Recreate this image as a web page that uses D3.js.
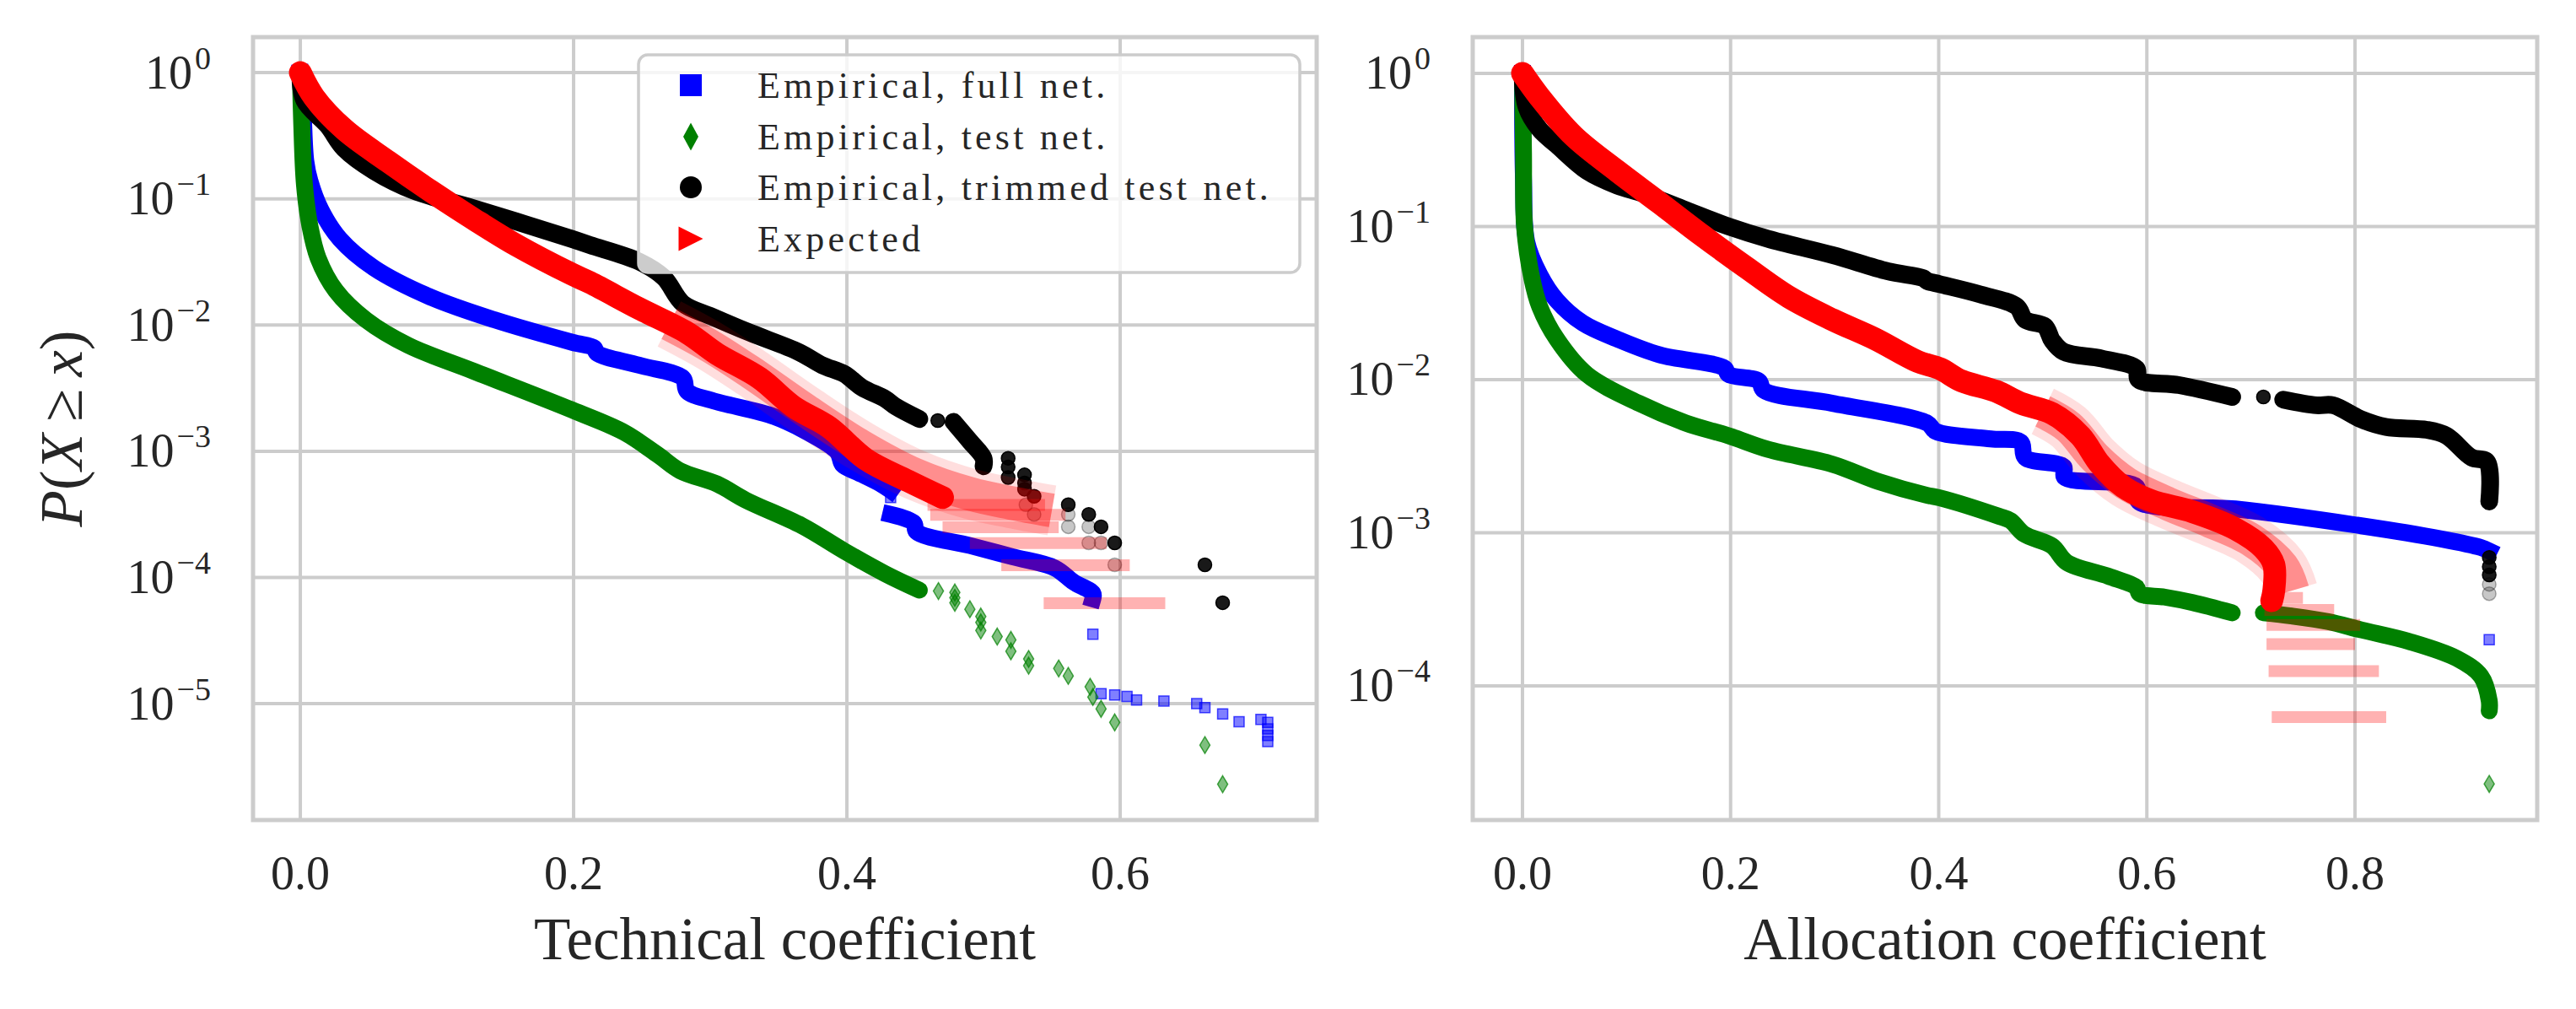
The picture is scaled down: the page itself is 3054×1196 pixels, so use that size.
<!DOCTYPE html>
<html><head><meta charset="utf-8">
<script src="https://cdn.jsdelivr.net/npm/d3@7/dist/d3.min.js"></script>
<style>
html,body{margin:0;padding:0;background:#fff;}
svg text{font-family:"Liberation Serif","Times New Roman",serif;fill:#262626;}
</style></head><body>
<svg id="chart" width="3054" height="1196" xmlns="http://www.w3.org/2000/svg"></svg>
<script>
// ---------------- DATA ----------------
const legendLabels = ["Empirical, full net.", "Empirical, test net.", "Empirical, trimmed test net.", "Expected"];
const techXLabel = "Technical coefficient";
const allocXLabel = "Allocation coefficient";
const techXTicks = [0, 0.2, 0.4, 0.6];
const allocXTicks = [0, 0.2, 0.4, 0.6, 0.8];
const techYExps = [0, -1, -2, -3, -4, -5];
const allocYExps = [0, -1, -2, -3, -4];

// Technical coefficient panel: [x, P(X>=x)]
const tcFullBand = [[0,1],[0.002,0.5],[0.004,0.2],[0.007,0.139],[0.015,0.082],[0.029,0.048],[0.054,0.0283],[0.095,0.0167],[0.142,0.011],[0.199,0.0073],[0.215,0.0066],[0.217,0.006],[0.248,0.0048],[0.28,0.0038],[0.283,0.003],[0.301,0.00253],[0.347,0.00188],[0.372,0.0014],[0.393,0.00099],[0.397,0.00078],[0.408,0.00068],[0.425,0.00055],[0.432,0.00049]];
const tcFullBand2 = [[0.432,0.000316],[0.449,0.00027],[0.451,0.00023],[0.49,0.000179],[0.521,0.000146],[0.552,0.000119],[0.566,0.0000918],[0.58,0.0000748],[0.58,0.0000676]];
const tcFullTail = [[0.432,0.00043],[0.58,0.0000355],[0.586,0.000012],[0.596,0.0000117],[0.605,0.0000114],[0.612,0.0000107],[0.632,0.0000105],[0.656,0.00001],[0.662,0.0000093],[0.675,0.0000083],[0.687,0.0000072],[0.703,0.0000075],[0.708,0.0000071],[0.708,0.0000063],[0.708,0.0000056],[0.708,0.000005]];
const tcTestBand = [[0,1],[0.001,0.4],[0.003,0.13],[0.007,0.061],[0.013,0.034],[0.026,0.0187],[0.048,0.011],[0.079,0.0069],[0.127,0.0043],[0.199,0.00212],[0.237,0.00141],[0.262,0.00093],[0.278,0.0007],[0.305,0.00055],[0.326,0.00041],[0.367,0.000257],[0.398,0.000162],[0.428,0.000107],[0.453,0.0000794]];
const tcTestTail = [[0.467,7.8e-5],[0.479,7.6e-5],[0.479,6.9e-5],[0.479,6.3e-5],[0.49,5.6e-5],[0.498,4.9e-5],[0.498,4.4e-5],[0.498,3.8e-5],[0.51,3.4e-5],[0.52,3.2e-5],[0.52,2.6e-5],[0.533,2.26e-5],[0.533,2.0e-5],[0.555,1.9e-5],[0.562,1.66e-5],[0.578,1.36e-5],[0.58,1.13e-5],[0.586,9.1e-6],[0.596,7.1e-6],[0.662,4.7e-6],[0.675,2.3e-6]];
const tcTrimBand = [[0,1],[0.003,0.6],[0.02,0.38],[0.032,0.25],[0.054,0.166],[0.083,0.116],[0.127,0.084],[0.199,0.048],[0.212,0.043],[0.248,0.0318],[0.266,0.0238],[0.28,0.0148],[0.301,0.0117],[0.329,0.0087],[0.365,0.0061],[0.382,0.0048],[0.398,0.0041],[0.411,0.0032],[0.428,0.0026],[0.436,0.00225],[0.453,0.0018]];
const tcTrimBand2 = [[0.478,0.00171],[0.49,0.0012],[0.5,0.00088],[0.5,0.00076]];
const tcTrimTail = [[0.4665,0.00175],[0.518,0.00088],[0.518,0.00075],[0.518,0.00062],[0.53,0.00065],[0.53,0.00056],[0.53,0.0005],[0.537,0.00044],[0.562,0.000377],[0.577,0.000316],[0.586,0.000252],[0.596,0.000188],[0.662,0.000126],[0.675,0.0000631]];
const tcTrimFaint = [[0.531,0.000377],[0.537,0.000316],[0.562,0.000316],[0.562,0.000252],[0.577,0.000252],[0.577,0.000188],[0.586,0.000188],[0.596,0.000126]];
const tcExpBand = [[0,1],[0.01,0.64],[0.032,0.356],[0.064,0.198],[0.095,0.116],[0.127,0.069],[0.158,0.043],[0.199,0.0252],[0.212,0.0217],[0.248,0.0135],[0.283,0.0087],[0.305,0.0059],[0.336,0.0038],[0.361,0.00225],[0.387,0.00155],[0.414,0.00086],[0.445,0.00058],[0.47,0.00043]];
const tcExpHalo = [[0.27,0.0102],[0.30,0.0068],[0.33,0.0042],[0.37,0.0021],[0.41,0.0011],[0.45,0.00065],[0.49,0.00046],[0.52,0.00039],[0.55,0.00034]];
const tcExpRows = [[3.75e-4,0.459,0.545],[3.13e-4,0.461,0.56],[2.5e-4,0.47,0.555],[1.875e-4,0.49,0.59],[1.25e-4,0.513,0.607],[6.25e-5,0.544,0.633]];

// Allocation coefficient panel
const acFullBand = [[0,1],[0.001,0.2],[0.004,0.08],[0.0165,0.0486],[0.033,0.0329],[0.058,0.0234],[0.091,0.0184],[0.132,0.0145],[0.194,0.0119],[0.198,0.0108],[0.227,0.0098],[0.232,0.0085],[0.298,0.007],[0.389,0.0052],[0.397,0.0046],[0.45,0.0041],[0.479,0.0039],[0.483,0.0031],[0.52,0.0027],[0.521,0.0023],[0.59,0.002],[0.592,0.0016],[0.685,0.00143],[0.806,0.00111],[0.883,0.00091],[0.921,0.0008],[0.929,0.00076]];
const acFullTail = [[0.929,0.0002]];
const acTestBand = [[0,1],[0.001,0.3],[0.002,0.1],[0.009,0.046],[0.0165,0.03],[0.033,0.0184],[0.062,0.0108],[0.112,0.007],[0.157,0.0052],[0.198,0.0043],[0.236,0.0035],[0.298,0.0028],[0.342,0.00216],[0.388,0.00176],[0.401,0.00169],[0.458,0.00128],[0.469,0.0012],[0.482,0.00098],[0.509,0.00082],[0.523,0.00064],[0.563,0.00052],[0.59,0.00044],[0.593,0.0004],[0.617,0.00038],[0.644,0.00035],[0.682,0.0003]];
const acTestBand2 = [[0.712,0.0003],[0.739,0.000286],[0.774,0.000263],[0.806,0.000232],[0.852,0.000195],[0.898,0.000151],[0.921,0.000116],[0.929,0.00008],[0.929,0.0000687]];
const acTestTail = [[0.929,0.0000229]];
const acTrimBand = [[0,1],[0.004,0.6],[0.0165,0.43],[0.033,0.34],[0.062,0.23],[0.091,0.185],[0.116,0.164],[0.157,0.128],[0.198,0.1],[0.236,0.083],[0.298,0.065],[0.351,0.051],[0.385,0.046],[0.389,0.044],[0.401,0.042],[0.44,0.036],[0.475,0.03],[0.483,0.0246],[0.502,0.0223],[0.509,0.018],[0.52,0.0152],[0.557,0.0137],[0.59,0.0118],[0.592,0.01],[0.631,0.0092],[0.682,0.0077]];
const acTrimBand2 = [[0.731,0.0074],[0.763,0.0068],[0.779,0.0068],[0.806,0.0055],[0.83,0.0049],[0.869,0.0047],[0.888,0.0043],[0.912,0.0031],[0.927,0.0029],[0.929,0.0016]];
const acTrimTail = [[0.712,0.0077],[0.929,0.00069],[0.929,0.0006],[0.929,0.00053]];
const acTrimFaint = [[0.929,0.00046],[0.929,0.0004]];
const acExpBand = [[0,1],[0.0165,0.7],[0.049,0.39],[0.091,0.23],[0.132,0.142],[0.173,0.087],[0.215,0.054],[0.256,0.0346],[0.298,0.0246],[0.339,0.0184],[0.38,0.0131],[0.401,0.0118],[0.422,0.0098],[0.455,0.0084],[0.479,0.007],[0.509,0.006],[0.536,0.0043],[0.555,0.0028],[0.577,0.002],[0.604,0.00162],[0.644,0.00137],[0.685,0.00106],[0.712,0.00079],[0.722,0.00062],[0.722,0.00042],[0.72,0.00036]];
const acExpHalo = [[0.50,0.0062],[0.525,0.0049],[0.55,0.0031],[0.58,0.0021],[0.62,0.00155],[0.66,0.0012],[0.70,0.0009],[0.73,0.0006],[0.74,0.00042]];
const acExpRows = [[3.75e-4,0.713,0.75],[3.13e-4,0.713,0.78],[2.5e-4,0.715,0.805],[1.875e-4,0.715,0.80],[1.25e-4,0.717,0.823],[6.25e-5,0.72,0.83]];

// ---------------- DRAWING ----------------
const svg = d3.select("#chart");
const GRID = "#cccccc";
const C = {full:"#0000ff", test:"#008000", trim:"#000000", exp:"#ff0000"};

const panels = [
  {id:"tc", left:300, right:1561, top:44, bottom:972, xd:[-0.0346,0.7438], yd:[Math.pow(10,-5.922),Math.pow(10,0.2814)],
   xticks:techXTicks, yexps:techYExps, label:techXLabel,
   full:[tcFullBand,tcFullBand2], fullTail:tcFullTail,
   test:[tcTestBand], testTail:tcTestTail,
   trim:[tcTrimBand,tcTrimBand2], trimTail:tcTrimTail, trimFaint:tcTrimFaint,
   exp:[tcExpBand], expHalo:tcExpHalo, expRows:tcExpRows, legend:true, ylabel:true},
  {id:"ac", left:1746, right:3008, top:44, bottom:972, xd:[-0.0478,0.9751], yd:[Math.pow(10,-4.876),Math.pow(10,0.2364)],
   xticks:allocXTicks, yexps:allocYExps, label:allocXLabel,
   full:[acFullBand], fullTail:acFullTail,
   test:[acTestBand,acTestBand2], testTail:acTestTail,
   trim:[acTrimBand,acTrimBand2], trimTail:acTrimTail, trimFaint:acTrimFaint,
   exp:[acExpBand], expHalo:acExpHalo, expRows:acExpRows, legend:false, ylabel:false}
];

const shape = {
  square: s => `M${-s/2},${-s/2}h${s}v${s}h${-s}Z`,
  diamond: (w,h) => `M0,${-h/2}L${w/2},0L0,${h/2}L${-w/2},0Z`,
  tri: s => `M${-s/2},${-s/2}L${s/2},0L${-s/2},${s/2}Z`,
  circle: r => `M${-r},0A${r},${r} 0 1,0 ${r},0A${r},${r} 0 1,0 ${-r},0Z`
};

panels.forEach(P => {
  const x = d3.scaleLinear().domain(P.xd).range([P.left, P.right]);
  const y = d3.scaleLog().domain(P.yd).range([P.bottom, P.top]);
  const g = svg.append("g");
  const clipId = "clip-" + P.id;
  svg.append("defs").append("clipPath").attr("id", clipId)
    .append("rect").attr("x", P.left).attr("y", P.top).attr("width", P.right-P.left).attr("height", P.bottom-P.top);

  // grid
  g.append("g").selectAll("line").data(P.xticks).join("line")
    .attr("x1", d=>x(d)).attr("x2", d=>x(d)).attr("y1", P.top).attr("y2", P.bottom)
    .attr("stroke", GRID).attr("stroke-width", 4);
  g.append("g").selectAll("line").data(P.yexps).join("line")
    .attr("y1", d=>y(Math.pow(10,d))).attr("y2", d=>y(Math.pow(10,d))).attr("x1", P.left).attr("x2", P.right)
    .attr("stroke", GRID).attr("stroke-width", 4);

  const data = g.append("g").attr("clip-path", `url(#${clipId})`);
  const line = d3.line().x(d=>x(d[0])).y(d=>y(d[1])).curve(d3.curveCatmullRom.alpha(0.5));

  function bands(arr, color, w, op, cap) {
    arr.forEach(b => data.append("path").attr("d", line(b)).attr("fill","none")
      .attr("stroke", color).attr("stroke-width", w).attr("stroke-opacity", op)
      .attr("stroke-linecap", cap||"round").attr("stroke-linejoin","round"));
  }
  function markers(pts, path, color, op) {
    data.append("g").selectAll("path").data(pts).join("path")
      .attr("d", path).attr("transform", d=>`translate(${x(d[0])},${y(d[1])})`)
      .attr("fill", color).attr("fill-opacity", op)
      .attr("stroke", color).attr("stroke-opacity", Math.min(1, op*1.4)).attr("stroke-width", 1.5);
  }

  // blue: full net
  bands(P.full, C.full, 20, 1, "square");
  markers(P.fullTail, shape.square(12), C.full, 0.5);
  // green: test net
  bands(P.test, C.test, 20, 1, "round");
  markers(P.testTail, shape.diamond(12,20), C.test, 0.5);
  // black: trimmed test net
  bands(P.trim, C.trim, 21, 1, "round");
  markers(P.trimFaint, shape.circle(8), C.trim, 0.22);
  markers(P.trimTail, shape.circle(8), C.trim, 0.9);
  // red: expected (fuzzy ensemble band)
  data.append("path").attr("d", line(P.expHalo)).attr("fill","none")
    .attr("stroke", C.exp).attr("stroke-width", 60).attr("stroke-opacity", 0.13)
    .attr("stroke-linecap","butt").attr("stroke-linejoin","round");
  data.append("path").attr("d", line(P.expHalo)).attr("fill","none")
    .attr("stroke", C.exp).attr("stroke-width", 40).attr("stroke-opacity", 0.36)
    .attr("stroke-linecap","butt").attr("stroke-linejoin","round");
  bands(P.exp, C.exp, 27, 1, "round");
  data.append("g").selectAll("line").data(P.expRows).join("line")
    .attr("x1", d=>x(d[1])).attr("x2", d=>x(d[2])).attr("y1", d=>y(d[0])).attr("y2", d=>y(d[0]))
    .attr("stroke", C.exp).attr("stroke-width", 14).attr("stroke-opacity", 0.3);

  // frame
  g.append("rect").attr("x", P.left).attr("y", P.top).attr("width", P.right-P.left).attr("height", P.bottom-P.top)
    .attr("fill","none").attr("stroke", GRID).attr("stroke-width", 5);

  // x tick labels
  g.append("g").selectAll("text").data(P.xticks).join("text")
    .attr("x", d=>x(d)).attr("y", 1054).attr("text-anchor","middle")
    .attr("font-size", 56).text(d=>d3.format(".1f")(d));
  // y tick labels
  const yt = g.append("g").selectAll("text").data(P.yexps).join("text")
    .attr("x", P.left - 50).attr("y", d=>y(Math.pow(10,d)) + 18.5)
    .attr("text-anchor","end").attr("font-size", 56);
  yt.append("tspan").text("10");
  yt.append("tspan").attr("dy", -23).attr("dx", 3).attr("font-size", 38)
    .text(d => d === 0 ? "0" : "\u2212" + (-d));

  // x label
  g.append("text").attr("x", (P.left+P.right)/2).attr("y", 1137).attr("text-anchor","middle")
    .attr("font-size", 71).text(P.label);

  if (P.ylabel) {
    const t = g.append("text").attr("transform", `translate(97,${(P.top+P.bottom)/2}) rotate(-90)`)
      .attr("text-anchor","middle").attr("font-size", 71);
    t.append("tspan").attr("font-style","italic").text("P");
    t.append("tspan").text("(");
    t.append("tspan").attr("font-style","italic").text("X");
    t.append("tspan").text("\u2009\u2265\u2009");
    t.append("tspan").attr("font-style","italic").text("x");
    t.append("tspan").text(")");
  }

  if (P.legend) {
    const L = g.append("g");
    L.append("rect").attr("x", 757).attr("y", 65).attr("width", 784).attr("height", 258).attr("rx", 11)
      .attr("fill", "#fff").attr("fill-opacity", 0.8).attr("stroke", GRID).attr("stroke-width", 3.5);
    const rows = [101, 162, 222, 283];
    const marks = [
      {d: shape.square(26), c: C.full},
      {d: shape.diamond(18,33), c: C.test},
      {d: shape.circle(13), c: C.trim},
      {d: shape.tri(29), c: C.exp}
    ];
    legendLabels.forEach((lab, i) => {
      L.append("path").attr("d", marks[i].d).attr("transform", `translate(819,${rows[i]})`).attr("fill", marks[i].c);
      L.append("text").attr("x", 898).attr("y", rows[i] + 14.5).attr("font-size", 44)
        .attr("letter-spacing", 4.2).text(lab);
    });
  }
});
</script></body></html>
